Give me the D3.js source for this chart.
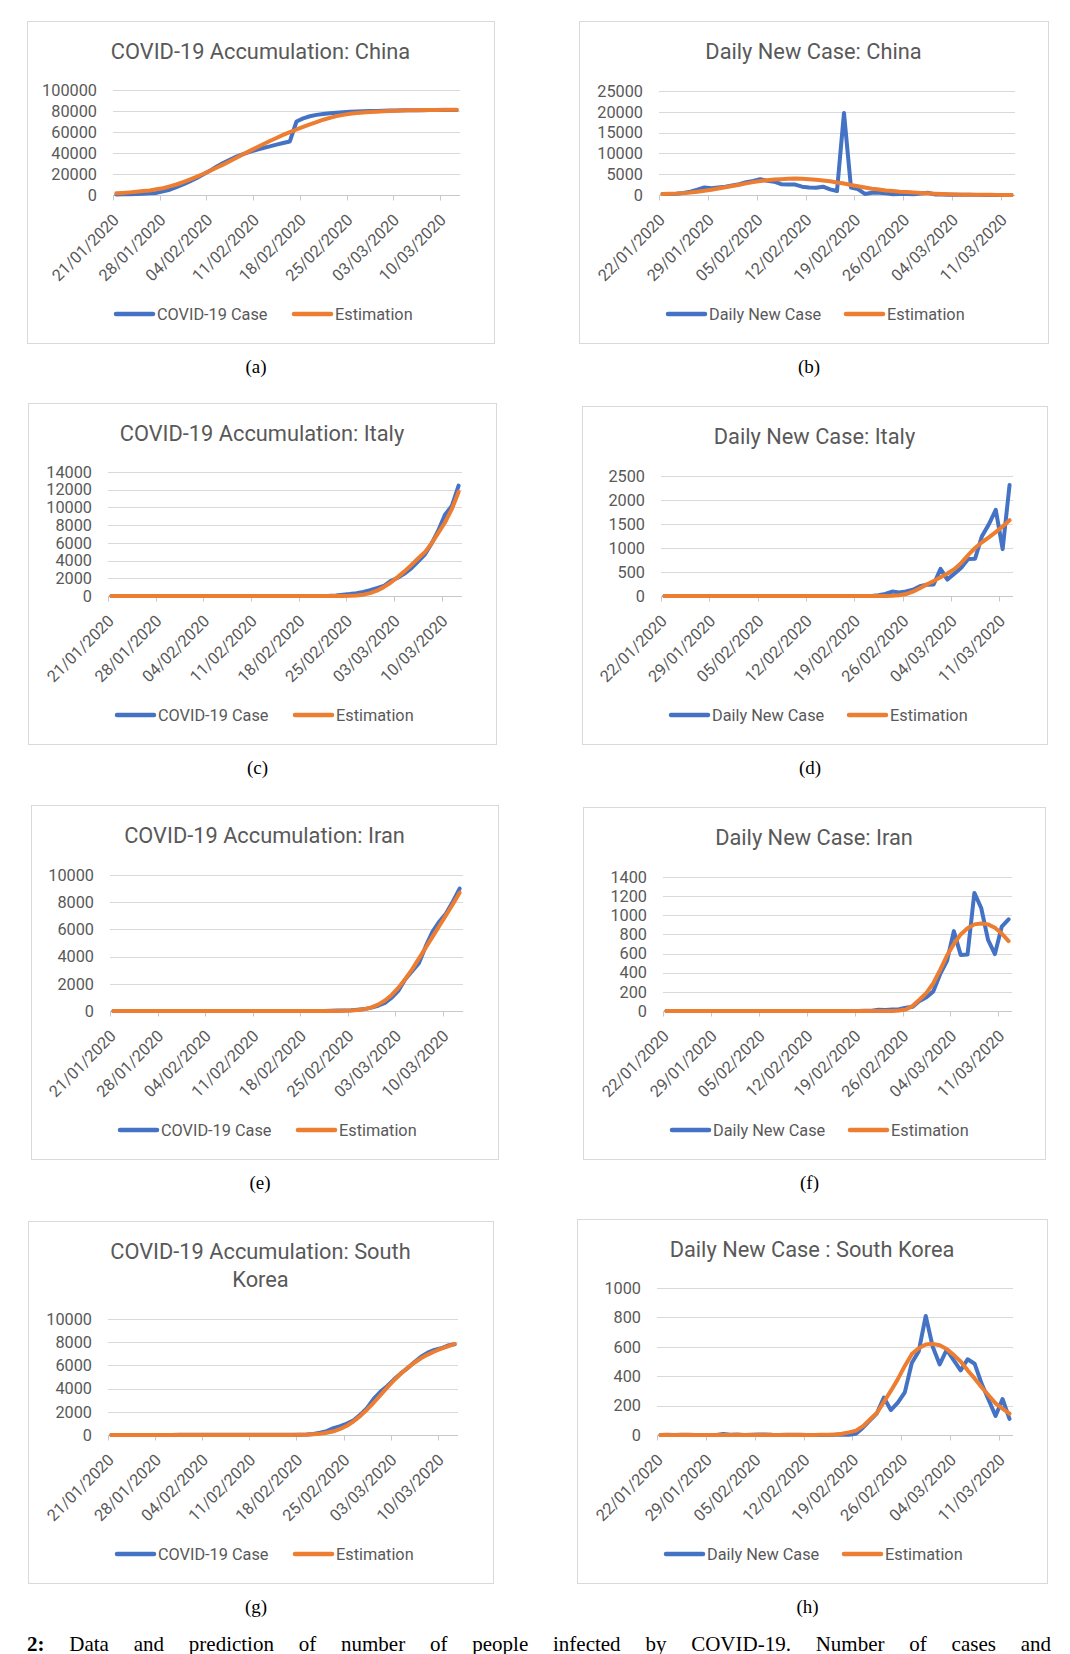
<!DOCTYPE html>
<html>
<head>
<meta charset="utf-8">
<script src="https://cdn.jsdelivr.net/npm/d3@7"></script>
<style>
  body { margin: 0; background: #fff; }
  svg text { font-family: Roboto, "Noto Sans", sans-serif; fill: #595959; }
  svg text.serif { font-family: "Liberation Serif", "DejaVu Serif", serif; fill: #000; }
</style>
</head>
<body>
<svg id="fig" width="1070" height="1654"></svg>
<script>
// cumulative cases, one value per day from 21/01/2020 to 12/03/2020
var chinaCase = [500, 600, 800, 1000, 1300, 1700, 2000, 3500, 5000, 7500,
    10000, 13000, 16000, 19500, 23000, 27000, 30500, 33500, 36500, 39000,
    41000, 43000, 44800, 46300, 48000, 49500, 51000, 70000, 73000, 75000,
    76300, 77200, 77800, 78400, 78900, 79200, 79500, 79700, 79900, 80100,
    80300, 80400, 80500, 80600, 80700, 80750, 80800, 80850, 80900, 80950,
    81000, 81050];
var chinaCaseEst = [1600, 2000, 2500, 3100, 3700, 4300, 5400, 6400, 8200, 10000,
    12300, 14700, 17200, 20000, 22900, 25900, 28900, 32200, 35500, 38800,
    42000, 45200, 48300, 51400, 54300, 57200, 59800, 62400, 64800, 67300,
    69500, 71700, 73500, 75100, 76300, 77300, 78000, 78600, 79000, 79400,
    79800, 80000, 80300, 80500, 80600, 80750, 80850, 80950, 81000, 81100,
    81200, 81300];
var italyCase = [0, 0, 0, 0, 0, 0, 0, 0, 0, 0,
    0, 2, 2, 2, 2, 2, 2, 2, 3, 3,
    3, 3, 3, 3, 3, 3, 3, 3, 3, 3,
    3, 3, 20, 62, 155, 229, 322, 453, 655, 888,
    1128, 1694, 2036, 2502, 3089, 3858, 4636, 5883, 7375, 9172,
    10149, 12462];
var italyCaseEst = [0, 0, 0, 0, 0, 0, 0, 0, 0, 0,
    0, 0, 0, 0, 0, 0, 0, 0, 0, 0,
    0, 0, 0, 0, 0, 0, 0, 0, 0, 0,
    0, 1, 2, 4, 10, 25, 60, 150, 330, 600,
    1000, 1500, 2100, 2750, 3450, 4200, 4900, 5900, 7100, 8300,
    9800, 11750];
var iranCase = [0, 0, 0, 0, 0, 0, 0, 0, 0, 0,
    0, 0, 0, 0, 0, 0, 0, 0, 0, 0,
    0, 0, 0, 0, 0, 0, 0, 0, 0, 0,
    2, 5, 18, 28, 43, 61, 95, 139, 245, 388,
    593, 978, 1501, 2336, 2922, 3513, 4747, 5823, 6566, 7161,
    8042, 9000];
var iranCaseEst = [0, 0, 0, 0, 0, 0, 0, 0, 0, 0,
    0, 0, 0, 0, 0, 0, 0, 0, 0, 0,
    0, 0, 0, 0, 0, 0, 0, 0, 0, 0,
    0, 0, 0, 0, 10, 30, 70, 140, 270, 470,
    770, 1180, 1720, 2360, 3060, 3850, 4650, 5450, 6250, 7050,
    7850, 8700];
var koreaCase = [1, 1, 2, 2, 3, 4, 4, 4, 4, 4,
    11, 12, 15, 15, 16, 19, 23, 24, 24, 26,
    27, 28, 28, 28, 28, 28, 29, 30, 31, 39,
    89, 189, 337, 592, 762, 982, 1272, 1762, 2332, 3142,
    3742, 4222, 4802, 5312, 5752, 6267, 6752, 7102, 7342, 7472,
    7717, 7827];
var koreaCaseEst = [0, 0, 0, 0, 0, 0, 0, 0, 0, 0,
    0, 0, 0, 0, 0, 0, 0, 0, 0, 0,
    0, 0, 0, 0, 0, 1, 3, 5, 12, 25,
    55, 105, 190, 320, 520, 800, 1180, 1650, 2200, 2800,
    3450, 4100, 4720, 5280, 5790, 6230, 6610, 6930, 7200, 7440,
    7650, 7850];

// daily new cases, one value per day from 22/01/2020 to 12/03/2020
var chinaNew = [250, 250, 300, 500, 800, 1300, 1800, 1600, 1800, 2000,
    2300, 2600, 3100, 3400, 3800, 3400, 3200, 2600, 2500, 2500,
    2000, 1800, 1750, 2000, 1350, 950, 19700, 1800, 1400, 250,
    550, 550, 400, 200, 250, 250, 200, 350, 550, 150,
    100, 80, 60, 50, 40, 30, 30, 25, 20, 15,
    15];
var chinaNewEst = [250, 300, 350, 450, 600, 800, 1000, 1250, 1550, 1850,
    2150, 2450, 2800, 3100, 3350, 3550, 3700, 3800, 3900, 3950,
    3900, 3800, 3650, 3500, 3300, 3000, 2750, 2400, 2100, 1800,
    1500, 1300, 1100, 950, 800, 700, 600, 500, 400, 300,
    220, 160, 120, 90, 70, 55, 45, 35, 30, 25,
    20];
var italyNew = [0, 0, 0, 0, 0, 0, 0, 0, 0, 0,
    2, 0, 0, 0, 0, 0, 0, 1, 0, 0,
    0, 0, 0, 0, 0, 0, 0, 0, 0, 0,
    0, 17, 42, 93, 74, 93, 131, 202, 233, 240,
    566, 342, 466, 587, 769, 778, 1247, 1492, 1797, 977,
    2313];
var italyNewEst = [0, 0, 0, 0, 0, 0, 0, 0, 0, 0,
    0, 0, 0, 0, 0, 0, 0, 0, 0, 0,
    0, 0, 0, 0, 0, 0, 0, 0, 0, 0,
    0, 0, 0, 5, 15, 40, 90, 160, 240, 310,
    390, 470, 560, 690, 850, 1000, 1120, 1220, 1330, 1450,
    1580];
var iranNew = [0, 0, 0, 0, 0, 0, 0, 0, 0, 0,
    0, 0, 0, 0, 0, 0, 0, 0, 0, 0,
    0, 0, 0, 0, 0, 0, 0, 0, 0, 2,
    3, 13, 10, 15, 18, 34, 44, 106, 143, 205,
    385, 523, 835, 586, 591, 1234, 1076, 743, 595, 881,
    958];
var iranNewEst = [0, 0, 0, 0, 0, 0, 0, 0, 0, 0,
    0, 0, 0, 0, 0, 0, 0, 0, 0, 0,
    0, 0, 0, 0, 0, 0, 0, 0, 0, 0,
    0, 0, 0, 0, 5, 15, 55, 120, 190, 290,
    430, 580, 700, 800, 865, 905, 915, 905, 870, 810,
    730];
var koreaNew = [0, 1, 0, 1, 1, 0, 0, 0, 0, 7,
    1, 3, 0, 1, 3, 4, 1, 0, 2, 1,
    1, 0, 0, 0, 0, 1, 1, 1, 8, 50,
    100, 148, 255, 170, 220, 290, 490, 570, 810, 600,
    480, 580, 510, 440, 515, 485, 350, 240, 130, 245,
    110];
var koreaNewEst = [0, 0, 0, 0, 0, 0, 0, 0, 0, 0,
    0, 0, 0, 0, 0, 0, 0, 0, 0, 0,
    0, 0, 0, 1, 2, 4, 8, 18, 30, 60,
    105, 150, 225, 300, 380, 470, 550, 590, 615, 620,
    610, 585, 545, 500, 440, 385, 325, 270, 215, 180,
    145];

// axis tick labels
var cumTickLabels = ['21/01/2020', '28/01/2020', '04/02/2020', '11/02/2020',
    '18/02/2020', '25/02/2020', '03/03/2020', '10/03/2020'];
var dailyTickLabels = ['22/01/2020', '29/01/2020', '05/02/2020', '12/02/2020',
    '19/02/2020', '26/02/2020', '04/03/2020', '11/03/2020'];
var chinaCaseTicks = [0, 20000, 40000, 60000, 80000, 100000];
var chinaNewTicks = [0, 5000, 10000, 15000, 20000, 25000];
var italyCaseTicks = [0, 2000, 4000, 6000, 8000, 10000, 12000, 14000];
var italyNewTicks = [0, 500, 1000, 1500, 2000, 2500];
var iranCaseTicks = [0, 2000, 4000, 6000, 8000, 10000];
var iranNewTicks = [0, 200, 400, 600, 800, 1000, 1200, 1400];
var koreaCaseTicks = [0, 2000, 4000, 6000, 8000, 10000];
var koreaNewTicks = [0, 200, 400, 600, 800, 1000];

var captionText = 'Data and prediction of number of people infected by COVID-19. Number of cases and';

var blue = '#4472C4', orange = '#ED7D31';
var parseDate = d3.timeParse('%d/%m/%Y');
var svg = d3.select('#fig');

// one entry per sub-figure: data refs plus where it sits on the page
var panels = [
    { tag: '(a)', title: ['COVID-19 Accumulation: China'], actual: chinaCase, est: chinaCaseEst,
      yTicks: chinaCaseTicks, xLabels: cumTickLabels, name: 'COVID-19 Case',
      frame: [27, 21, 494, 343], px: [113, 460], py: [195, 90] },
    { tag: '(b)', title: ['Daily New Case: China'], actual: chinaNew, est: chinaNewEst,
      yTicks: chinaNewTicks, xLabels: dailyTickLabels, name: 'Daily New Case',
      frame: [579, 21, 1048, 343], px: [659, 1015], py: [195, 91] },
    { tag: '(c)', title: ['COVID-19 Accumulation: Italy'], actual: italyCase, est: italyCaseEst,
      yTicks: italyCaseTicks, xLabels: cumTickLabels, name: 'COVID-19 Case',
      frame: [28, 403, 496, 744], px: [108, 462], py: [596, 472] },
    { tag: '(d)', title: ['Daily New Case: Italy'], actual: italyNew, est: italyNewEst,
      yTicks: italyNewTicks, xLabels: dailyTickLabels, name: 'Daily New Case',
      frame: [582, 406, 1047, 744], px: [661, 1013], py: [596, 476] },
    { tag: '(e)', title: ['COVID-19 Accumulation: Iran'], actual: iranCase, est: iranCaseEst,
      yTicks: iranCaseTicks, xLabels: cumTickLabels, name: 'COVID-19 Case',
      frame: [31, 805, 498, 1159], px: [110, 463], py: [1011, 875] },
    { tag: '(f)', title: ['Daily New Case: Iran'], actual: iranNew, est: iranNewEst,
      yTicks: iranNewTicks, xLabels: dailyTickLabels, name: 'Daily New Case',
      frame: [583, 807, 1045, 1159], px: [663, 1012], py: [1011, 877] },
    { tag: '(g)', title: ['COVID-19 Accumulation: South', 'Korea'], actual: koreaCase, est: koreaCaseEst,
      yTicks: koreaCaseTicks, xLabels: cumTickLabels, name: 'COVID-19 Case',
      frame: [28, 1221, 493, 1583], px: [108, 458], py: [1435, 1319] },
    { tag: '(h)', title: ['Daily New Case : South Korea'], actual: koreaNew, est: koreaNewEst,
      yTicks: koreaNewTicks, xLabels: dailyTickLabels, name: 'Daily New Case',
      frame: [577, 1219, 1047, 1583], px: [657, 1013], py: [1435, 1288] }
];

function drawPanel(p) {
    var g = svg.append('g');
    var f = p.frame;
    var cx = (f[0] + f[2]) / 2;

    // chart border
    g.append('rect')
        .attr('x', f[0] + 0.5).attr('y', f[1] + 0.5)
        .attr('width', f[2] - f[0]).attr('height', f[3] - f[1])
        .attr('fill', '#fff').attr('stroke', '#d9d9d9').attr('stroke-width', 1);

    // title
    g.selectAll('.title').data(p.title).enter().append('text')
        .attr('x', cx).attr('y', (d, i) => f[1] + 38 + i * 28)
        .attr('text-anchor', 'middle')
        .style('font-size', '21.8px')
        .text(d => d);

    // date axis: each day is one slot, points sit in the middle of their day
    var start = parseDate(p.xLabels[0]);
    var n = p.actual.length;
    var x = d3.scaleTime()
        .domain([start, d3.timeDay.offset(start, n)])
        .range(p.px);
    var y = d3.scaleLinear()
        .domain([0, d3.max(p.yTicks)])
        .range(p.py);
    var dayX = i => x(d3.timeHour.offset(start, i * 24 + 12));

    // gridlines
    g.selectAll('.grid').data(p.yTicks).enter().append('line')
        .attr('x1', p.px[0]).attr('x2', p.px[1])
        .attr('y1', d => Math.round(y(d)) + 0.5).attr('y2', d => Math.round(y(d)) + 0.5)
        .attr('stroke', '#d9d9d9').attr('stroke-width', 1);

    // y labels
    g.selectAll('.ylab').data(p.yTicks).enter().append('text')
        .attr('x', p.px[0] - 16).attr('y', d => y(d))
        .attr('dy', '0.35em')
        .attr('text-anchor', 'end')
        .style('font-size', '16.3px')
        .text(d3.format('d'));

    // x axis line and tick marks
    var tickDates = p.xLabels.map(parseDate);
    var y0 = Math.round(p.py[0]) + 0.5;
    g.append('line')
        .attr('x1', p.px[0]).attr('x2', p.px[1])
        .attr('y1', y0).attr('y2', y0)
        .attr('stroke', '#c8c8c8');
    g.selectAll('.tick').data(tickDates).enter().append('line')
        .attr('x1', d => Math.round(x(d)) + 0.5).attr('x2', d => Math.round(x(d)) + 0.5)
        .attr('y1', y0).attr('y2', y0 + 5)
        .attr('stroke', '#c8c8c8');

    // x labels, rotated
    g.selectAll('.xlab').data(tickDates).enter().append('text')
        .attr('transform', d => 'translate(' + (x(d) + 3) + ',' + (p.py[0] + 22) + ') rotate(-45)')
        .attr('text-anchor', 'end')
        .attr('dy', '0.35em')
        .style('font-size', '16.3px')
        .text((d, i) => p.xLabels[i]);

    // series
    var line = d3.line().x((d, i) => dayX(i)).y(d => y(d));
    g.append('path').datum(p.actual)
        .attr('d', line)
        .attr('fill', 'none').attr('stroke', blue).attr('stroke-width', 4)
        .attr('stroke-linejoin', 'round').attr('stroke-linecap', 'round');
    g.append('path').datum(p.est)
        .attr('d', line)
        .attr('fill', 'none').attr('stroke', orange).attr('stroke-width', 4)
        .attr('stroke-linejoin', 'round').attr('stroke-linecap', 'round');

    // legend
    var ly = f[3] - 29;
    var items = [
        { label: p.name, color: blue, off: 89 },
        { label: 'Estimation', color: orange, off: 267 }
    ];
    var leg = g.selectAll('.legend').data(items).enter().append('g');
    leg.append('line')
        .attr('x1', d => f[0] + d.off).attr('x2', d => f[0] + d.off + 37)
        .attr('y1', ly).attr('y2', ly)
        .attr('stroke', d => d.color).attr('stroke-width', 4.5)
        .attr('stroke-linecap', 'round');
    leg.append('text')
        .attr('x', d => f[0] + d.off + 41).attr('y', ly)
        .attr('dy', '0.35em')
        .style('font-size', '16.3px')
        .text(d => d.label);

    // sub-figure tag
    svg.append('text')
        .attr('class', 'serif')
        .attr('x', cx - 4.5).attr('y', f[3] + 30)
        .attr('text-anchor', 'middle')
        .style('font-size', '19px')
        .text(p.tag);
}

panels.forEach(drawPanel);

// figure caption at the bottom edge, justified by widening the word gaps
var cap = svg.append('text')
    .attr('class', 'serif')
    .attr('x', 27).attr('y', 1651)
    .style('font-size', '21px');
cap.append('tspan').style('font-weight', 'bold').text('2:');
cap.append('tspan').text(' ' + captionText);
var natural = cap.node().getComputedTextLength();
var gaps = captionText.split(' ').length;
cap.style('word-spacing', Math.max(0, (1024 - natural) / gaps) + 'px');
</script>
</body>
</html>
